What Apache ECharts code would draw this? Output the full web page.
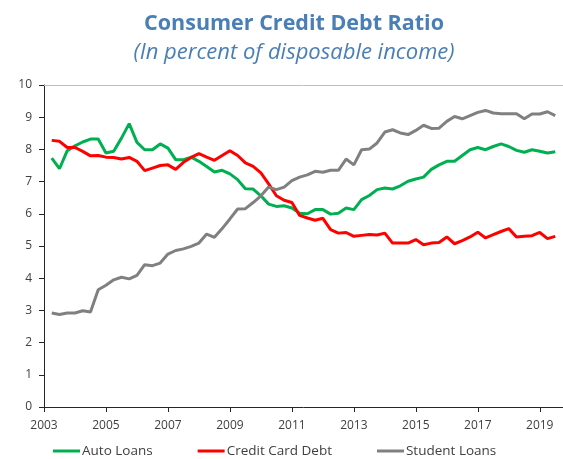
<!DOCTYPE html>
<html>
<head>
<meta charset="utf-8">
<script src="https://cdn.jsdelivr.net/npm/echarts@6/dist/echarts.min.js"></script>
<style>
  html, body { margin: 0; padding: 0; background: #fff; }
  #chart { width: 563px; height: 459px; }
</style>
</head>
<body>
<div id="chart"></div>
<script>
// ---- Data (quarterly, 2003Q1 .. 2019Q2) ----
const titleText = 'Consumer Credit Debt Ratio';
const subtitleText = '(In percent of disposable income)';
const seriesNames = ['Auto Loans', 'Credit Card Debt', 'Student Loans'];
const firstYear = 2003;
const quarterCount = 66;

const autoLoans = [
  7.73, 7.40, 7.96, 8.11, 8.23, 8.32, 8.32, 7.89, 7.94, 8.35,
  8.80, 8.22, 7.99, 7.99, 8.17, 8.04, 7.68, 7.68, 7.76, 7.63,
  7.47, 7.30, 7.35, 7.24, 7.06, 6.78, 6.77, 6.56, 6.30, 6.23,
  6.25, 6.18, 6.02, 6.00, 6.13, 6.13, 5.99, 6.02, 6.18, 6.13,
  6.44, 6.57, 6.75, 6.80, 6.77, 6.87, 7.01, 7.08, 7.14, 7.38,
  7.52, 7.63, 7.63, 7.81, 7.99, 8.06, 7.99, 8.09, 8.17, 8.09,
  7.97, 7.91, 7.99, 7.94, 7.89, 7.93
];
const creditCardDebt = [
  8.28, 8.25, 8.06, 8.06, 7.94, 7.80, 7.81, 7.76, 7.75, 7.70,
  7.75, 7.63, 7.34, 7.42, 7.50, 7.52, 7.38, 7.60, 7.75, 7.87,
  7.76, 7.66, 7.81, 7.96, 7.81, 7.58, 7.47, 7.27, 6.93, 6.56,
  6.42, 6.35, 5.95, 5.87, 5.80, 5.86, 5.51, 5.40, 5.42, 5.30,
  5.33, 5.36, 5.34, 5.40, 5.09, 5.09, 5.09, 5.20, 5.04, 5.09,
  5.11, 5.28, 5.07, 5.17, 5.28, 5.43, 5.25, 5.35, 5.45, 5.54,
  5.28, 5.30, 5.32, 5.42, 5.23, 5.30
];
const studentLoans = [
  2.92, 2.87, 2.92, 2.92, 2.99, 2.95, 3.64, 3.78, 3.95, 4.03,
  3.98, 4.09, 4.42, 4.39, 4.47, 4.75, 4.86, 4.91, 4.99, 5.09,
  5.37, 5.27, 5.54, 5.84, 6.15, 6.16, 6.35, 6.56, 6.83, 6.75,
  6.83, 7.03, 7.14, 7.21, 7.32, 7.29, 7.35, 7.35, 7.70, 7.52,
  7.99, 8.01, 8.20, 8.54, 8.61, 8.51, 8.46, 8.59, 8.75, 8.65,
  8.66, 8.87, 9.02, 8.95, 9.05, 9.15, 9.21, 9.13, 9.11, 9.11,
  9.11, 8.95, 9.10, 9.10, 9.17, 9.05
];
const xTickLabels = [2003, 2005, 2007, 2009, 2011, 2013, 2015, 2017, 2019];
const yTickLabels = [0, 1, 2, 3, 4, 5, 6, 7, 8, 9, 10];

// quarter-end dates as decimal years
const quarters = [];
for (let i = 0; i < quarterCount; i++) {
  const y = firstYear + Math.floor(i / 4);
  const q = (i % 4) + 1;
  quarters.push({ label: y + 'Q' + q, x: y + q / 4 });
}
function pairs(vals) { return vals.map((v, i) => [quarters[i].x, v]); }

const FONT = 'Open Sans';
const TEXT = '#404040';
const AXIS = '#262626';
const TITLE_COLOR = '#4a7fb5';

const chart = echarts.init(document.getElementById('chart'), null, { renderer: 'canvas' });
chart.setOption({
  animation: false,
  backgroundColor: '#ffffff',
  textStyle: { fontFamily: FONT },
  title: [
    {
      text: titleText, left: 294, top: 11, padding: 0, textAlign: 'center',
      textStyle: { fontFamily: FONT, fontSize: 21.5, fontWeight: 'bold', color: TITLE_COLOR, lineHeight: 26 }
    },
    {
      text: subtitleText, left: 294, top: 40, padding: 0, textAlign: 'center',
      textStyle: { fontFamily: FONT, fontSize: 22, fontWeight: 'normal', fontStyle: 'italic', color: TITLE_COLOR, lineHeight: 26 }
    }
  ],
  legend: {
    data: seriesNames,
    left: 53, top: 444, padding: 0,
    itemWidth: 27, itemHeight: 3, itemGap: 45,
    icon: 'rect',
    textStyle: { fontFamily: FONT, fontSize: 13.5, color: TEXT, padding: [0, 0, 0, -3] }
  },
  grid: { left: 44, right: 0, top: 85, bottom: 52, outerBoundsMode: 'none', containLabel: false },
  xAxis: {
    type: 'value', min: 2003, max: 2019.75,
    axisLine: { show: true, onZero: false, lineStyle: { color: AXIS, width: 1 } },
    axisTick: { show: true, length: 5, inside: false, customValues: xTickLabels, lineStyle: { color: AXIS } },
    axisLabel: { customValues: xTickLabels, margin: 13, fontFamily: FONT, fontSize: 12, color: TEXT, formatter: v => String(v) },
    splitLine: { show: false }
  },
  yAxis: {
    type: 'value', min: 0, max: 10, interval: 1,
    axisLine: { show: true, lineStyle: { color: AXIS, width: 1 } },
    axisTick: { show: true, length: 5, inside: false, lineStyle: { color: AXIS } },
    axisLabel: { margin: 12, fontFamily: FONT, fontSize: 12, color: TEXT,
      formatter: v => (yTickLabels.indexOf(v) >= 0 ? String(v) : '') },
    splitLine: { show: false }
  },
  series: [
    {
      name: seriesNames[0], type: 'line', data: pairs(autoLoans),
      symbol: 'none', showSymbol: false, color: '#00b050',
      lineStyle: { width: 3, color: '#00b050' },
      markLine: {
        silent: true, symbol: 'none', label: { show: false },
        lineStyle: { color: '#bfbfbf', width: 1, type: 'solid' },
        data: [{ yAxis: 10 }]
      }
    },
    {
      name: seriesNames[1], type: 'line', data: pairs(creditCardDebt),
      symbol: 'none', showSymbol: false, color: '#ff0000',
      lineStyle: { width: 3, color: '#ff0000' }
    },
    {
      name: seriesNames[2], type: 'line', data: pairs(studentLoans),
      symbol: 'none', showSymbol: false, color: '#808080',
      lineStyle: { width: 3, color: '#808080' }
    }
  ]
});
</script>
</body>
</html>
